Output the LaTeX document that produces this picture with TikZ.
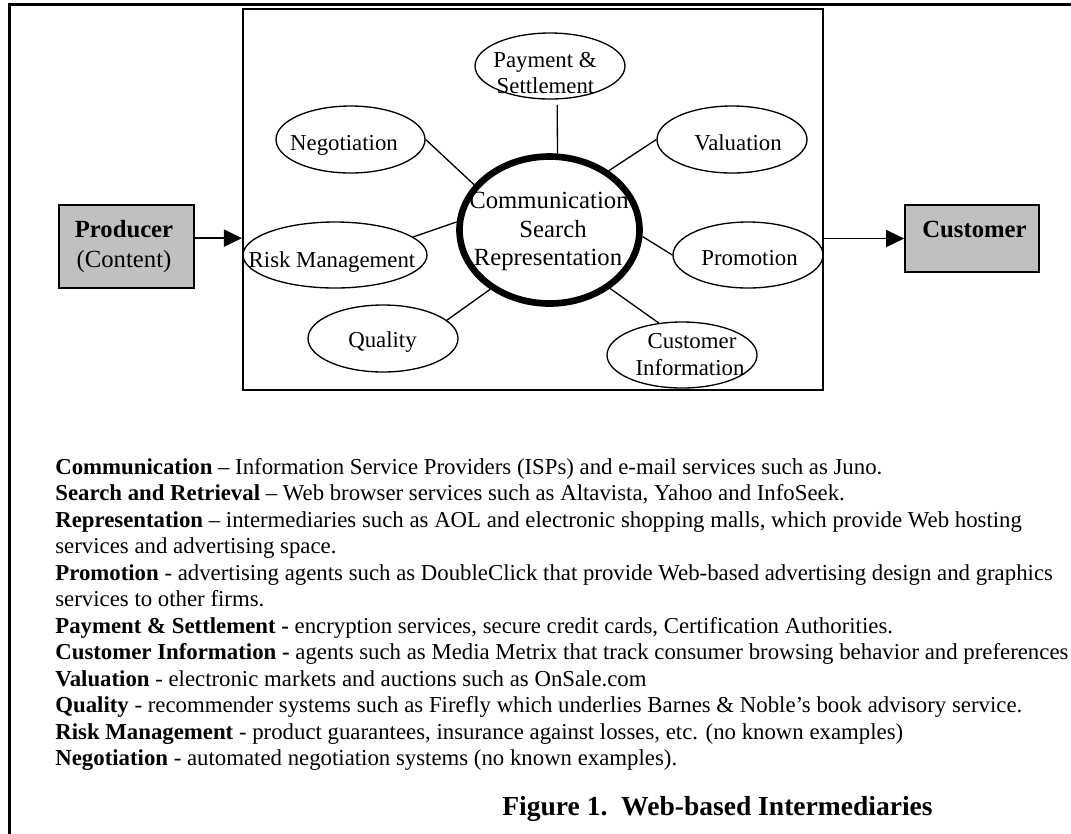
\documentclass[tikz,border=0pt]{standalone}
\usepackage{fontspec}
\setmainfont{Liberation Serif}[Ligatures=CommonOff]
\usetikzlibrary{shapes.geometric,arrows.meta}
% one drawing unit
\newdimen\pxu \pxu=0.5263pt
\definecolor{boxgray}{HTML}{C0C0C0}
\begin{document}
\begin{tikzpicture}[x=0.5263pt,y=-0.5263pt,
  bub/.style 2 args={ellipse,draw,line width=0.7pt,inner sep=0pt,
    minimum width=#1\pxu,minimum height=#2\pxu},
  hubstyle/.style={ellipse,draw,line width=3.5pt,inner sep=0pt,
    minimum width=180\pxu,minimum height=147\pxu},
  grayboxstyle/.style={draw,line width=0.9pt,fill=boxgray,inner sep=0pt},
  lbl/.style={anchor=base,inner sep=0pt,font=\fontsize{12}{14}\selectfont},
  hublbl/.style={anchor=base,inner sep=0pt,font=\fontsize{13}{15}\selectfont},
  boxlbl/.style={anchor=base,inner sep=0pt,font=\fontsize{13}{15}\selectfont},
  body/.style={anchor=base west,inner sep=0pt,font=\fontsize{12}{14}\selectfont},
  link/.style={line width=0.7pt},
  arr/.style={line width=0.7pt,-{Triangle[length=9.5pt,width=9pt]}}]
\useasboundingbox (0,0) rectangle (1071,833);

% page frame
\draw[line width=1.85pt] (1080,4.7) -- (9.5,4.7) -- (9.5,845);

% intermediary frame
\node[draw,line width=1.05pt,inner sep=0pt,minimum width=580\pxu,
  minimum height=381\pxu] (frame) at (533,199.5) {};

% producer and customer
\node[grayboxstyle,minimum width=135\pxu,minimum height=83\pxu] (prod) at (126.5,246.5) {};
\node[boxlbl,font=\fontsize{13}{15}\selectfont\bfseries] (prodA) at (124,237) {Producer};
\node[boxlbl] (prodB) at (124,267) {(Content)};
\node[grayboxstyle,minimum width=134\pxu,minimum height=67\pxu] (cust) at (972,238.5) {};
\node[boxlbl,font=\fontsize{13}{15}\selectfont\bfseries] (custA) at (974.5,237) {Customer};

% service bubbles
\node[bub={150}{66}] (pay) at (550,66) {};
\node[bub={149}{67}] (neg) at (350.5,139.5) {};
\node[bub={150}{67}] (val) at (732,139.5) {};
\node[bub={184}{66}] (risk) at (335,255) {};
\node[bub={150}{67}] (qual) at (383,338.5) {};
\node[bub={150}{66}] (prom) at (748,255) {};
\node[bub={150}{66}] (cinfo) at (682,355) {};
\node[hubstyle] (hub) at (549.5,230) {};

% spokes
\draw[link,shorten <=2.8pt] (pay.-78) -- (hub.84.2);
\draw[link] (neg.east) -- (hub.149.5);
\draw[link] (val.west) -- (hub.45.2);
\draw[link] (risk.13) -- (hub.175);
\draw[link] (qual.16.5) -- (hub.225.2);
\draw[link] (prom.west) -- (hub.-4.9);
\draw[link] (cinfo.126) -- (hub.-44.8);

% flow arrows
\draw[arr] (prod.7.2) -- (prod.7.2 -| frame.west);
\draw[arr] (cust.west -| frame.east) -- (cust.west);

% bubble texts
\node[lbl] (payA) at (545,67) {Payment \&};
\node[lbl] (payB) at (545.5,93) {Settlement};
\node[lbl] (negT) at (344,150) {Negotiation};
\node[lbl] (valT) at (738,150) {Valuation};
\node[lbl] (riskT) at (332,267) {Risk Management};
\node[lbl] (qualT) at (382.5,347) {Quality};
\node[lbl] (promT) at (749.5,265) {Promotion};
\node[lbl] (cinfoA) at (692,348) {Customer};
\node[lbl] (cinfoB) at (690,375) {Information};
\node[hublbl] (hubA) at (549,208) {Communication};
\node[hublbl] (hubB) at (553,237) {Search};
\node[hublbl] (hubC) at (548,265) {Representation};

% legend
\node[body] (l1) at (55,474) {\textbf{Communication} – Information Service Providers (ISPs) and e-mail services such as Juno.};
\node[body] (l2) at (55,500.5) {\textbf{Search and Retrieval} – Web browser services such as Altavista, Yahoo and InfoSeek.};
\node[body] (l3) at (55,527) {\textbf{Representation} – intermediaries such as AOL and electronic shopping malls, which provide Web hosting};
\node[body] (l4) at (55,553.5) {services and advertising space.};
\node[body] (l5) at (55,580) {\textbf{Promotion} - advertising agents such as DoubleClick that provide Web-based advertising design and graphics};
\node[body] (l6) at (55,606.5) {services to other firms.};
\node[body] (l7) at (55,633) {\textbf{Payment \& Settlement -} encryption services, secure credit cards, Certification Authorities.};
\node[body] (l8) at (55,659.5) {\textbf{Customer Information -} agents such as Media Metrix that track consumer browsing behavior and preferences};
\node[body] (l9) at (55,686) {\textbf{Valuation} - electronic markets and auctions such as OnSale.com};
\node[body] (l10) at (55,712.5) {\textbf{Quality} - recommender systems such as Firefly which underlies Barnes \& Noble’s book advisory service.};
\node[body] (l11) at (55,739) {\textbf{Risk Management} - product guarantees, insurance against losses, etc. (no known examples)};
\node[body] (l12) at (55,765.5) {\textbf{Negotiation} - automated negotiation systems (no known examples).};

% caption
\node[body,font=\fontsize{14.5}{17}\selectfont\bfseries] (cap) at (502,815) {Figure 1.\ \ Web-based Intermediaries};
\end{tikzpicture}
\end{document}
